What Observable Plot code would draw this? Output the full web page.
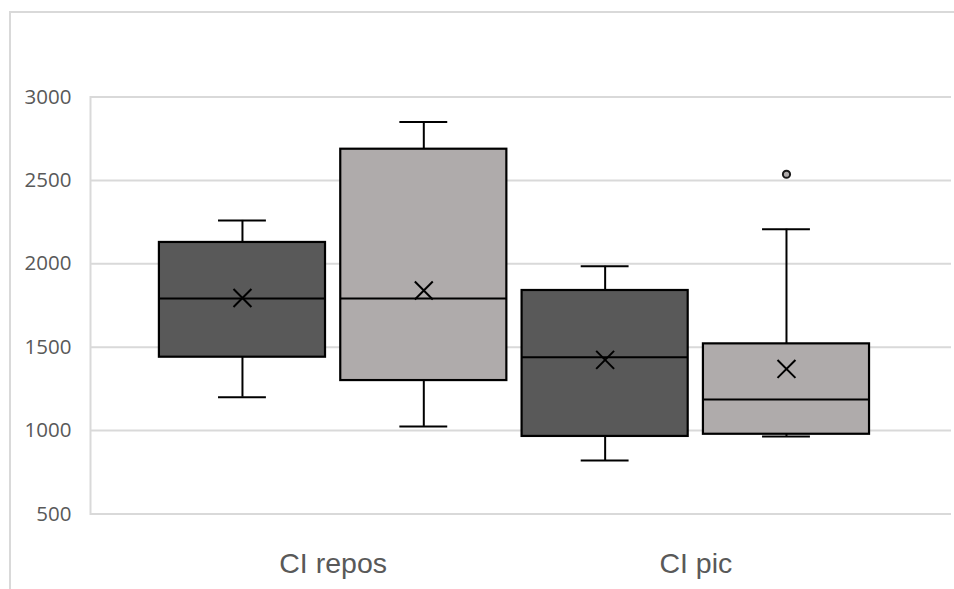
<!DOCTYPE html>
<html>
<head>
<meta charset="utf-8">
<script src="https://cdn.jsdelivr.net/npm/d3@7"></script>
<script src="https://cdn.jsdelivr.net/npm/@observablehq/plot@0.6"></script>
<style>
  html, body { margin: 0; padding: 0; background: #fff; overflow: hidden; }
  #wrap { position: relative; width: 954px; height: 589px; overflow: hidden; }
  #border { position: absolute; left: 9px; top: 11px; width: 1400px; height: 900px;
            border-left: 2px solid #d9d9d9; border-top: 2px solid #d9d9d9; box-sizing: border-box; }
  #chart { position: absolute; left: 0; top: 0; }
</style>
</head>
<body>
<div id="wrap"><div id="border"></div><div id="chart"></div></div>
<script>
// Categories and series
const categories = ["CI repos", "CI pic"];
const series = ["Série 1", "Série 2"];
// Box statistics, order: [CI repos S1, CI repos S2, CI pic S1, CI pic S2]
const boxCategory = ["CI repos", "CI repos", "CI pic", "CI pic"];
const boxSeries   = ["Série 1", "Série 2", "Série 1", "Série 2"];
const minValues    = [1200, 1025,  820,  965];
const q1Values     = [1440, 1300,  965,  978];
const medianValues = [1792, 1792, 1440, 1186];
const q3Values     = [2128, 2687, 1840, 1520];
const maxValues    = [2260, 2850, 1985, 2207];
const meanValues   = [1795, 1840, 1424, 1370];
// Outliers
const outlierCategory = ["CI pic"];
const outlierSeries = ["Série 2"];
const outlierValues = [2537];
// Y ticks
const yTicks = [500, 1000, 1500, 2000, 2500, 3000];

const seriesColor = {"Série 1": "#595959", "Série 2": "#afabab"};
const boxHalf = 0.458, capHalf = 0.132;

const boxes = boxCategory.map((c, i) => ({
  pos: categories.indexOf(c) * series.length + series.indexOf(boxSeries[i]),
  series: boxSeries[i],
  min: minValues[i], q1: q1Values[i], median: medianValues[i],
  q3: q3Values[i], max: maxValues[i], mean: meanValues[i]
}));
const outliers = outlierValues.map((v, i) => ({
  pos: categories.indexOf(outlierCategory[i]) * series.length + series.indexOf(outlierSeries[i]),
  series: outlierSeries[i], value: v
}));
const labels = categories.map((c, i) => ({label: c, pos: i * series.length + (series.length - 1) / 2}));

const chart = Plot.plot({
  width: 954,
  height: 589,
  marginLeft: 90,
  marginRight: 3,
  marginTop: 96.5,
  marginBottom: 75.5,
  style: {fontFamily: "'Open Sans', sans-serif", fontSize: "20.5px", background: "transparent"},
  x: {domain: [-0.838, 3.91], axis: null},
  y: {domain: [500, 3000], ticks: yTicks, label: null},
  marks: [
    Plot.gridY(yTicks, {stroke: "#d9d9d9", strokeOpacity: 1, strokeWidth: 2}),
    Plot.frame({anchor: "left", stroke: "#d9d9d9", strokeWidth: 2}),
    Plot.axisY(yTicks, {tickSize: 0, tickPadding: 19, fontSize: 20.5, fill: "#595959", label: null,
      tickFormat: d => String(d)}),
    // whiskers
    Plot.ruleX(boxes, {x: "pos", y1: "q3", y2: "max", stroke: "#000", strokeWidth: 2}),
    Plot.ruleX(boxes, {x: "pos", y1: "min", y2: "q1", stroke: "#000", strokeWidth: 2}),
    Plot.ruleY(boxes, {y: "max", x1: d => d.pos - capHalf, x2: d => d.pos + capHalf, stroke: "#000", strokeWidth: 2}),
    Plot.ruleY(boxes, {y: "min", x1: d => d.pos - capHalf, x2: d => d.pos + capHalf, stroke: "#000", strokeWidth: 2}),
    // boxes
    Plot.rect(boxes, {x1: d => d.pos - boxHalf, x2: d => d.pos + boxHalf, y1: "q1", y2: "q3",
      fill: d => seriesColor[d.series], stroke: "#000", strokeWidth: 2.2}),
    Plot.ruleY(boxes, {y: "median", x1: d => d.pos - boxHalf, x2: d => d.pos + boxHalf, stroke: "#000", strokeWidth: 2}),
    // means
    Plot.dot(boxes, {x: "pos", y: "mean", symbol: "times", r: 8.2, stroke: "#000", strokeWidth: 2}),
    // outliers
    Plot.dot(outliers, {x: "pos", y: "value", r: 3.6, fill: d => seriesColor[d.series], stroke: "#1a1a1a", strokeWidth: 2}),
    // category labels
    Plot.text(labels, {x: "pos", text: "label", frameAnchor: "bottom", dy: 50, lineAnchor: "middle",
      fontSize: 28.5, fill: "#595959", fontFamily: "'Liberation Sans', Arial, sans-serif"})
  ]
});
document.getElementById("chart").appendChild(chart);
</script>
</body>
</html>
